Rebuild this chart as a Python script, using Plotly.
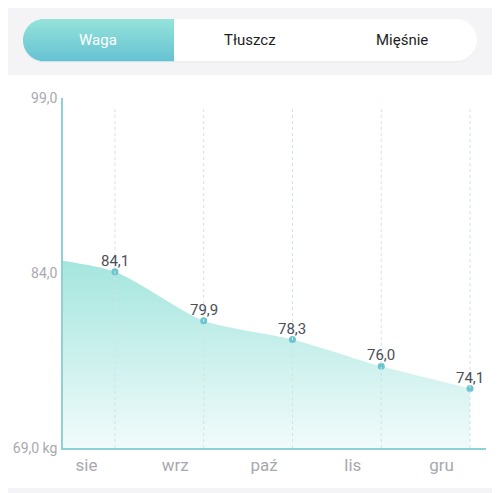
import math
import plotly.graph_objects as go

# data
months = ["sie", "wrz", "paź", "lis", "gru"]
weights = [84.1, 79.9, 78.3, 76.0, 74.1]
prev_weight = 85.5  # month before "sie", only its slope shows at the left edge
y_ticks = [69.0, 84.0, 99.0]
y_tick_text = ["69,0 kg", "84,0", "99,0"]
tabs = ["Waga", "Tłuszcz", "Mięśnie"]

# page has an 8px body margin, so the figure is drawn 8px smaller and
# every screen position below is given in window pixels
OFF = 8
W, H = 500 - OFF, 493 - OFF
L, R, T, B = 63 - OFF, 14, 98 - OFF, 45
pw = W - L - R
ph = H - T - B


def px(x):
    return (x - OFF - L) / pw


def py(y):
    return (H - B - (y - OFF)) / ph


xs = list(range(len(months)))

fig = go.Figure()

# area
fig.add_trace(go.Scatter(
    x=[-1] + xs,
    y=[prev_weight] + weights,
    mode="lines",
    line=dict(shape="spline", smoothing=0.7, width=0, color="#a3e5dd"),
    fill="tozeroy",
    fillgradient=dict(type="vertical", start=69, stop=86,
                      colorscale=[[0, "#f1fbfb"], [1, "#a0e4dc"]]),
    hoverinfo="skip",
    showlegend=False,
))

# points
fig.add_trace(go.Scatter(
    x=xs,
    y=weights,
    mode="markers",
    marker=dict(size=7, color="#6cc4d0"),
    showlegend=False,
))

shapes = []
for i in xs:
    shapes.append(dict(type="line", xref="x", yref="y", x0=i, x1=i, y0=69, y1=98.1,
                       line=dict(color="#cfe3e8", width=1, dash="3px,3px"), layer="above"))

# header background + bottom strip
shapes.append(dict(type="rect", xref="paper", yref="paper", x0=px(0), x1=px(500),
                   y0=py(75), y1=py(0), fillcolor="#f4f4f6", line=dict(width=0), layer="below"))
shapes.append(dict(type="rect", xref="paper", yref="paper", x0=px(0), x1=px(500),
                   y0=py(493), y1=py(488), fillcolor="#f4f4f6", line=dict(width=0), layer="below"))


def pill_path(x0, x1, y0, y1, dy=0):
    r = (y1 - y0) / 2
    cy = (y0 + y1) / 2 + dy
    pts = []
    for k in range(0, 31):
        a = -math.pi / 2 + math.pi * k / 30
        pts.append((x1 - r + r * math.cos(a), cy + r * math.sin(a)))
    for k in range(0, 31):
        a = math.pi / 2 + math.pi * k / 30
        pts.append((x0 + r + r * math.cos(a), cy + r * math.sin(a)))
    return "M " + " L ".join(f"{px(a):.5f},{py(b):.5f}" for a, b in pts) + " Z"


# soft shadow + white pill
shapes.append(dict(type="path", xref="paper", yref="paper", path=pill_path(23, 477, 19, 61, 1.5),
                   fillcolor="rgba(0,0,0,0.025)", line=dict(width=0), layer="below"))
shapes.append(dict(type="path", xref="paper", yref="paper", path=pill_path(23, 477, 19, 61),
                   fillcolor="white", line=dict(width=0), layer="below"))

# gradient "Waga" segment built from thin stripes
top, bot, x0, x1 = 19, 61, 23, 174
r = (bot - top) / 2
cy = (top + bot) / 2
c_top = (0x95, 0xe3, 0xda)
c_bot = (0x66, 0xc2, 0xd2)
n = 42
for k in range(n):
    ya = top + (bot - top) * k / n
    yb = top + (bot - top) * (k + 1) / n
    ym = (ya + yb) / 2
    d = min(r, abs(ym - cy))
    xl = x0 + r - math.sqrt(r * r - d * d)
    t = k / (n - 1)
    col = "rgb(%d,%d,%d)" % tuple(round(a + (b - a) * t) for a, b in zip(c_top, c_bot))
    shapes.append(dict(type="rect", xref="paper", yref="paper", x0=px(xl), x1=px(x1),
                       y0=py(yb + 0.3), y1=py(ya), fillcolor=col, line=dict(width=0), layer="below"))

annotations = []
tab_x = [98, 250, 402]
tab_col = ["white", "#1e1e1e", "#1e1e1e"]
for name, cx, col in zip(tabs, tab_x, tab_col):
    annotations.append(dict(text=name, x=px(cx), y=py(40), xref="paper", yref="paper",
                            showarrow=False, xanchor="center", yanchor="middle",
                            font=dict(family="Roboto", size=15, color=col)))

# value labels above the points
for i, v in zip(xs, weights):
    annotations.append(dict(text=f"{v:.1f}".replace(".", ","), x=i, y=v, xref="x", yref="y",
                            showarrow=False, xanchor="center", yanchor="middle", yshift=11,
                            font=dict(family="Roboto", size=15, color="#4a4f57")))

fig.update_layout(
    width=W, height=H,
    margin=dict(l=L, r=R, t=T, b=B),
    paper_bgcolor="white",
    plot_bgcolor="white",
    shapes=shapes,
    annotations=annotations,
    xaxis=dict(range=[-0.585, 4.18], showgrid=False, zeroline=False,
               showline=True, linecolor="#8fd2d6", linewidth=1.5,
               tickvals=[i - 0.32 for i in xs], ticktext=months, ticks="",
               ticklabelstandoff=1, automargin=False,
               tickfont=dict(family="Roboto", size=17, color="#a9a9ad")),
    yaxis=dict(range=[69, 99], showgrid=False, zeroline=False,
               showline=True, linecolor="#8fd2d6", linewidth=1.5,
               tickvals=y_ticks, ticktext=y_tick_text, ticks="",
               ticklabelstandoff=1, automargin=False,
               tickfont=dict(family="Roboto", size=14, color="#a9a9ad")),
)

fig.write_html("out.html")
